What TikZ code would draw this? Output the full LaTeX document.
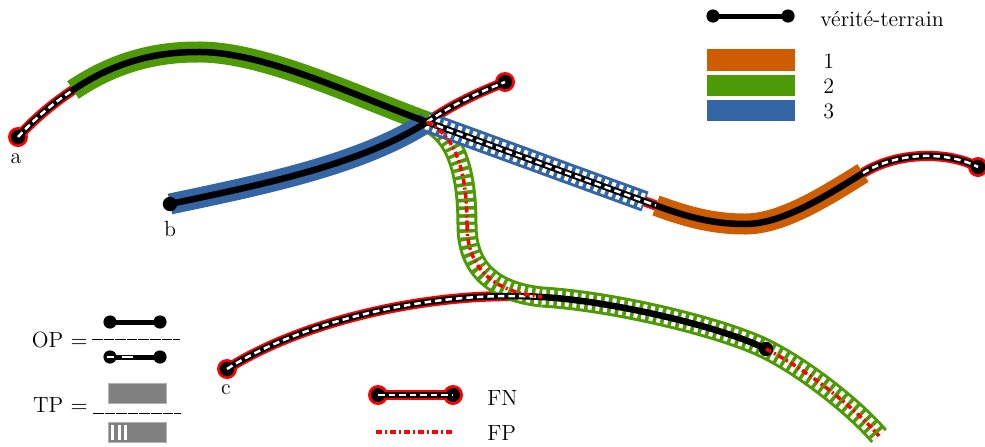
\documentclass[tikz,border=0pt]{standalone}
\usepackage{fontspec}
\definecolor{tOrange}{HTML}{CE5C00}
\definecolor{tGreen}{HTML}{4E9A06}
\definecolor{tBlue}{HTML}{3465A4}
\newcommand{\sAG}{(A) .. controls (35,118) and (55,102) .. (G1)}
\newcommand{\sGP}{(G1) .. controls (110,65) and (150,52) .. (P)}
\newcommand{\sPX}{(P) .. controls (263,51) and (355,96) .. (X)}
\newcommand{\sXQ}{(X) -- (Q1)}
\newcommand{\sQO}{(Q1) -- (O1)}
\newcommand{\sOT}{(O1) .. controls (690,218) and (715,224) .. (T)}
\newcommand{\sTO}{(T) .. controls (780,224) and (820,200) .. (O2)}
\newcommand{\sOE}{(O2) .. controls (895,153) and (945,150) .. (E1)}
\newcommand{\sBX}{(B) .. controls (260,185) and (360,165) .. (X)}
\newcommand{\sXE}{(X) .. controls (455,103) and (480,92) .. (E2)}
\newcommand{\sCM}{(C) .. controls (300,322) and (430,290) .. (M)}
\newcommand{\sME}{(M) .. controls (612,301) and (722,327) .. (E3)}
\newcommand{\sXH}{(X) .. controls (455,135) and (467,170) .. (H)}
\newcommand{\sHM}{(H) .. controls (467,270) and (495,292) .. (M)}
\newcommand{\sEF}{(E3) .. controls (806,369) and (855,408) .. (F)}
\begin{document}
\begin{tikzpicture}[x=0.5pt,y=-0.5pt,
  band/.style={line width=10.5pt},
  stripes/.style={draw=white,line width=7.5pt,dash pattern=on 2pt off 1.9pt},
  gt/.style={draw=black,line width=3.25pt},
  fnred/.style={draw=red,line width=5.1pt},
  fnwhite/.style={draw=white,line width=1.25pt,dash pattern=on 3.25pt off 2pt},
  fp/.style={draw=red,line width=1.75pt,dash pattern=on 3pt off 1.5pt on 1pt off 1.5pt},
  lbl/.style={font=\fontsize{11}{13}\selectfont,inner sep=0pt},
  gtleg/.style={draw=black,line width=2.5pt},
  tpbox/.style={fill=gray,draw=gray!60,line width=0.5pt},
  fracrule/.style={draw=black,line width=0.5pt,dash pattern=on 5.3pt off 0.5pt}]
\useasboundingbox (0,0) rectangle (985,446);
% knots
\coordinate (A) at (18,137);
\coordinate (G1) at (73,90);
\coordinate (P) at (197,52);
\coordinate (X) at (427,122);
\coordinate (Q1) at (645,201.5);
\coordinate (O1) at (656,205.5);
\coordinate (T) at (745,224);
\coordinate (O2) at (863,173);
\coordinate (E1) at (978,167);
\coordinate (B) at (170,204);
\coordinate (E2) at (505,82);
\coordinate (C) at (227,369);
\coordinate (M) at (542,297);
\coordinate (E3) at (766,349);
\coordinate (H) at (467,225);
\coordinate (F) at (879,436);
% FN red outlines
\draw[fnred] \sAG;
\draw[fnred] \sXQ \sQO;
\draw[fnred] \sOE;
\draw[fnred] \sXE;
\draw[fnred] \sCM;
\foreach \p in {A,E1,E2,C} \fill[red] (\p) circle (5pt);
% detections
\draw[band,tOrange] \sOT \sTO;
\draw[band,tGreen] \sGP \sPX;
\draw[band,tGreen] \sXH \sHM \sME \sEF;
\draw[stripes] \sXH \sHM \sME \sEF;
\draw[band,tBlue] \sBX;
\draw[band,tBlue] \sXQ;
\draw[stripes] \sXQ;
% ground truth
\draw[gt] \sAG \sGP \sPX \sXQ \sQO \sOT \sTO \sOE;
\draw[gt] \sBX \sXE;
\draw[gt] \sCM \sME;
\foreach \p in {A,B,C,E1,E2,E3} \fill[black] (\p) circle (3.6pt);
% FN white dashes
\draw[fnwhite] \sAG;
\draw[fnwhite] \sXQ \sQO;
\draw[fnwhite] \sOE;
\draw[fnwhite] \sXE;
\draw[fnwhite] \sCM;
% FP
\draw[fp] \sXH \sHM;
\draw[fp] \sEF;
% labels
\node[lbl,anchor=base] (la) at (16,163) {a};
\node[lbl,anchor=base] (lb) at (170,236) {b};
\node[lbl,anchor=base] (lc) at (226,394) {c};
% legend: ground truth
\coordinate (V1) at (713,16);
\coordinate (V2) at (788,16);
\draw[gtleg] (V1) -- (V2);
\fill (V1) circle (3.3pt);
\fill (V2) circle (3.3pt);
\node[lbl,anchor=base west] (tv) at (820,26) {vérité-terrain};
\fill[tOrange] (707,49) rectangle (795,71);
\fill[tGreen] (707,75) rectangle (795,96);
\fill[tBlue] (707,100) rectangle (795,121);
\node[lbl,anchor=base west] (t1) at (823,68) {1};
\node[lbl,anchor=base west] (t2) at (823,93) {2};
\node[lbl,anchor=base west] (t3) at (823,118) {3};
% legend: OP
\node[lbl,anchor=base east] (top) at (88,347) {OP $=$};
\coordinate (N1) at (110,322);
\coordinate (N2) at (160,322);
\draw[gtleg] (N1) -- (N2);
\fill (N1) circle (3.3pt);
\fill (N2) circle (3.3pt);
\coordinate (R1) at (92,339);
\coordinate (R2) at (180,339);
\draw[fracrule] (R1) -- (R2);
\coordinate (D1) at (110,357);
\coordinate (D2) at (160,357);
\draw[gtleg] (D1) -- (D2);
\fill (D1) circle (3.3pt);
\fill (D2) circle (3.3pt);
\coordinate (W1) at (106.5,357);
\coordinate (W2) at (133,357);
\draw[draw=white,line width=1.4pt,dash pattern=on 3.5pt off 4.25pt on 5.5pt off 10pt] (W1) -- (W2);
% legend: TP
\node[lbl,anchor=base east] (ttp) at (88,412) {TP $=$};
\draw[tpbox] (108,383) rectangle (166,403);
\coordinate (R3) at (93,413);
\coordinate (R4) at (181,413);
\draw[fracrule] (R3) -- (R4);
\draw[tpbox] (108,422) rectangle (166,442);
\fill[white] (111,424.5) rectangle (114,439.5);
\fill[white] (117.5,424.5) rectangle (120.5,439.5);
\fill[white] (124,424.5) rectangle (127,439.5);
% legend: FN
\coordinate (FN1) at (378,395);
\coordinate (FN2) at (453,395);
\draw[fnred] (FN1) -- (FN2);
\fill[red] (FN1) circle (5pt);
\fill[red] (FN2) circle (5pt);
\draw[gt] (FN1) -- (FN2);
\fill (FN1) circle (3.5pt);
\fill (FN2) circle (3.5pt);
\draw[fnwhite] (FN1) -- (FN2);
\node[lbl,anchor=base west] (tfn) at (487,405) {FN};
% legend: FP
\coordinate (FP1) at (376,432);
\coordinate (FP2) at (455,432);
\draw[fp] (FP1) -- (FP2);
\node[lbl,anchor=base west] (tfp) at (487,440) {FP};
\end{tikzpicture}
\end{document}
